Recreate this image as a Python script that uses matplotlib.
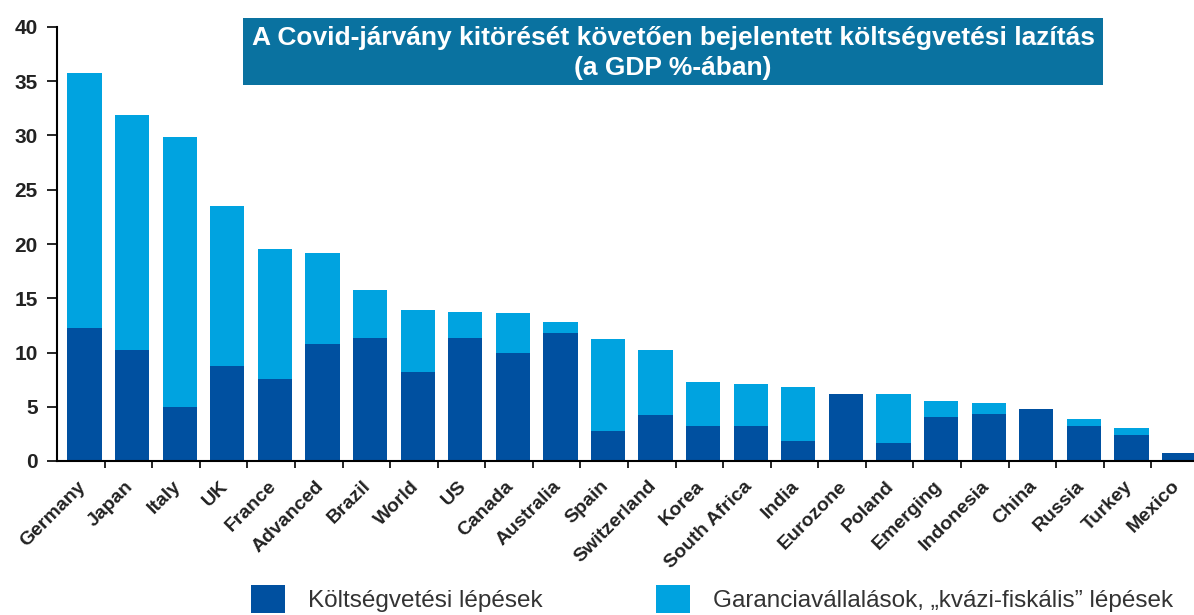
import numpy as np
import matplotlib
matplotlib.use("Agg")
import matplotlib.pyplot as plt
from matplotlib.patches import Rectangle

plt.rcParams['font.family'] = ['Liberation Sans', 'DejaVu Sans']

# Data (% of GDP)
countries = ["Germany", "Japan", "Italy", "UK", "France", "Advanced", "Brazil",
             "World", "US", "Canada", "Australia", "Spain", "Switzerland", "Korea",
             "South Africa", "India", "Eurozone", "Poland", "Emerging", "Indonesia",
             "China", "Russia", "Turkey", "Mexico"]
fiscal = [12.3, 10.2, 5.0, 8.8, 7.6, 10.8, 11.3, 8.2, 11.3, 10.0, 11.8, 2.8, 4.2,
          3.2, 3.2, 1.8, 6.2, 1.7, 4.1, 4.3, 4.8, 3.2, 2.4, 0.7]
total = [35.8, 31.9, 29.9, 23.5, 19.5, 19.2, 15.8, 13.9, 13.7, 13.6, 12.8, 11.2,
         10.2, 7.3, 7.1, 6.8, 6.2, 6.2, 5.5, 5.3, 4.8, 3.9, 3.0, 0.7]
guarantees = [t - f for t, f in zip(total, fiscal)]

title = "A Covid-járvány kitörését követően bejelentett költségvetési lazítás\n(a GDP %-ában)"
legend_labels = ["Költségvetési lépések", "Garanciavállalások, „kvázi-fiskális” lépések"]

dark = "#0050A0"
light = "#00A3E0"
W, H = 1194, 615

fig = plt.figure(figsize=(W / 100, H / 100), dpi=100)
ax = fig.add_axes([57 / W, (H - 461) / H, (1199 - 57) / W, (461 - 27) / H])

x = np.arange(len(countries))
b1 = ax.bar(x + 0.08, fiscal, width=0.72, color=dark, label=legend_labels[0])
b2 = ax.bar(x + 0.08, guarantees, width=0.72, bottom=fiscal, color=light,
            label=legend_labels[1])

ax.set_xlim(-0.5, len(countries) - 0.5)
ax.set_ylim(0, 40)
ax.set_yticks(np.arange(0, 41, 5))
ax.tick_params(axis='y', labelsize=15, length=7, width=1.2, direction='out', pad=7,
               labelcolor='#222222')
for lab in ax.get_yticklabels():
    lab.set_fontweight('bold')

# labels sit a little left of the bar centres
ax.set_xticks(x - 0.08)
ax.set_xticklabels(countries, rotation=45, ha='right', rotation_mode='anchor',
                   fontsize=14, fontweight='bold', color='#222222')
ax.tick_params(axis='x', which='major', length=0, pad=12)
ax.set_xticks(x[:-1] + 0.5, minor=True)
ax.tick_params(axis='x', which='minor', length=5, width=1.2, direction='out')

for s in ['top', 'right']:
    ax.spines[s].set_visible(False)
ax.spines['left'].set_linewidth(1.5)
ax.spines['bottom'].set_linewidth(1.5)

# title box
fig.patches.append(Rectangle((243 / W, 1 - 85 / H), (1103 - 243) / W, 67 / H,
                             transform=fig.transFigure, facecolor="#0A72A0",
                             edgecolor='none', zorder=1))
fig.text(673 / W, 1 - 53 / H, title, ha='center', va='center', color='white',
         fontsize=19, fontweight='bold', linespacing=1.3, zorder=2)

fig.legend(handles=[b1, b2], labels=legend_labels, loc='upper left',
           bbox_to_anchor=(251 / W, 1 - 585 / H), ncol=2, frameon=False,
           fontsize=17.5, handlelength=1.38, handleheight=1.38, handletextpad=0.95,
           columnspacing=4.7, borderpad=0, borderaxespad=0, labelcolor='#333333')

fig.savefig("out.png", dpi=100)
